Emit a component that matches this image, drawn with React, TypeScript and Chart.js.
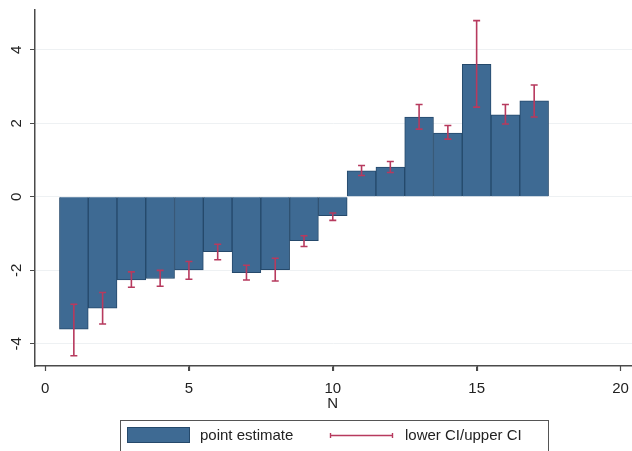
import React, { useEffect, useRef } from "react";
import { Chart, registerables } from "chart.js";

Chart.register(...registerables);

const N = [1, 2, 3, 4, 5, 6, 7, 8, 9, 10, 11, 12, 13, 14, 15, 16, 17];
const estimate = [-3.6, -3.03, -2.26, -2.22, -1.99, -1.49, -2.06, -1.98, -1.19, -0.51, 0.71, 0.81, 2.17, 1.73, 3.6, 2.23, 2.61];
const lowerCI = [-4.32, -3.46, -2.46, -2.43, -2.24, -1.71, -2.26, -2.29, -1.35, -0.64, 0.58, 0.66, 1.84, 1.57, 2.44, 1.98, 2.17];
const upperCI = [-2.92, -2.6, -2.04, -2.0, -1.76, -1.29, -1.86, -1.67, -1.06, -0.44, 0.85, 0.96, 2.51, 1.94, 4.79, 2.51, 3.04];
const xTicks = [0, 5, 10, 15, 20];
const yTicks = [-4, -2, 0, 2, 4];
const xTitle = "N";
const legendLabels = ["point estimate", "lower CI/upper CI"];

const FONT = "'Liberation Sans', Arial, Helvetica, sans-serif";
const BAR_FILL = "#3e6a93";
const BAR_EDGE = "#25496b";
const CI_COLOR = "#b73a5e";
const AXIS_COLOR = "#4a4a4a";

const overlayPlugin = {
  id: "overlay",
  afterDatasetsDraw(chart: any) {
    const ctx = chart.ctx;
    const xs = chart.scales.x;
    const ys = chart.scales.y;
    ctx.save();
    ctx.strokeStyle = CI_COLOR;
    ctx.lineWidth = 1.6;
    for (let i = 0; i < N.length; i++) {
      const px = xs.getPixelForValue(N[i]);
      const pl = ys.getPixelForValue(lowerCI[i]);
      const pu = ys.getPixelForValue(upperCI[i]);
      ctx.beginPath();
      ctx.moveTo(px, pl);
      ctx.lineTo(px, pu);
      ctx.moveTo(px - 3.5, pl);
      ctx.lineTo(px + 3.5, pl);
      ctx.moveTo(px - 3.5, pu);
      ctx.lineTo(px + 3.5, pu);
      ctx.stroke();
    }
    ctx.restore();
  },
  afterDraw(chart: any) {
    const ctx = chart.ctx;
    const ys = chart.scales.y;
    const xs = chart.scales.x;
    ctx.save();
    // x tick marks
    ctx.strokeStyle = AXIS_COLOR;
    ctx.lineWidth = 1.2;
    ctx.beginPath();
    for (const v of xTicks) {
      const px = Math.round(xs.getPixelForValue(v)) + 0.5;
      ctx.moveTo(px, xs.top);
      ctx.lineTo(px, xs.top + 5);
    }
    ctx.stroke();
    ctx.fillStyle = "#222";
    ctx.font = `15px ${FONT}`;
    ctx.textAlign = "center";
    ctx.textBaseline = "middle";
    for (const v of yTicks) {
      const py = ys.getPixelForValue(v);
      ctx.save();
      ctx.translate(17, py);
      ctx.rotate(-Math.PI / 2);
      ctx.fillText(String(v), 0, 0);
      ctx.restore();
    }
    ctx.fillText(xTitle, xs.getPixelForValue(10), 404);
    // legend
    ctx.strokeStyle = "#555";
    ctx.lineWidth = 1;
    ctx.strokeRect(120.5, 420.5, 428, 40);
    ctx.fillStyle = BAR_FILL;
    ctx.fillRect(127, 427, 63, 16);
    ctx.strokeStyle = BAR_EDGE;
    ctx.strokeRect(127.5, 427.5, 62, 15);
    ctx.fillStyle = "#222";
    ctx.textAlign = "left";
    ctx.fillText(legendLabels[0], 200, 436);
    ctx.strokeStyle = CI_COLOR;
    ctx.lineWidth = 1.4;
    ctx.beginPath();
    ctx.moveTo(330, 435.5);
    ctx.lineTo(393, 435.5);
    ctx.moveTo(330.5, 433);
    ctx.lineTo(330.5, 438);
    ctx.moveTo(392.5, 433);
    ctx.lineTo(392.5, 438);
    ctx.stroke();
    ctx.fillText(legendLabels[1], 405, 436);
    ctx.restore();
  },
};

export default function App() {
  const ref = useRef<HTMLCanvasElement | null>(null);
  useEffect(() => {
    if (!ref.current) return;
    const chart = new Chart(ref.current, {
      type: "bar",
      data: {
        datasets: [
          {
            label: legendLabels[0],
            data: N.map((n, i) => ({ x: n, y: estimate[i] })),
            backgroundColor: BAR_FILL,
            borderColor: BAR_EDGE,
            borderWidth: 1,
            barPercentage: 1,
            categoryPercentage: 1,
          },
        ],
      },
      options: {
        animation: false,
        responsive: true,
        maintainAspectRatio: false,
        layout: { padding: { top: 10, left: 0, right: 0, bottom: 0 } },
        plugins: { legend: { display: false }, tooltip: { enabled: false } },
        scales: {
          x: {
            type: "linear",
            offset: false,
            min: -0.35,
            max: 20.4,
            afterBuildTicks: (s: any) => {
              s.ticks = xTicks.map((v) => ({ value: v }));
            },
            afterFit: (s: any) => {
              s.height = 85;
              s.paddingLeft = 0;
              s.paddingRight = 0;
            },
            ticks: {
              font: { family: FONT, size: 15 },
              color: "#222",
              padding: 9,
              maxRotation: 0,
              autoSkip: false,
            },
            grid: {
              offset: false,
              drawOnChartArea: false,
              drawTicks: true,
              tickLength: 5,
              tickColor: AXIS_COLOR,
            },
            border: { color: AXIS_COLOR, width: 1.5 },
          },
          y: {
            type: "linear",
            min: -4.6,
            max: 5.08,
            afterBuildTicks: (s: any) => {
              s.ticks = yTicks.map((v) => ({ value: v }));
            },
            afterFit: (s: any) => {
              s.width = 35;
              s.paddingTop = 0;
              s.paddingBottom = 0;
            },
            ticks: { display: false },
            grid: {
              color: "#eef1f3",
              drawTicks: true,
              tickLength: 5,
              tickColor: AXIS_COLOR,
            },
            border: { color: AXIS_COLOR, width: 1.5 },
          },
        },
      },
      plugins: [overlayPlugin],
    });
    return () => chart.destroy();
  }, []);
  return (
    <div style={{ position: "fixed", left: 0, top: 0, width: 632, height: 451, background: "#fff" }}>
      <canvas ref={ref} />
    </div>
  );
}
